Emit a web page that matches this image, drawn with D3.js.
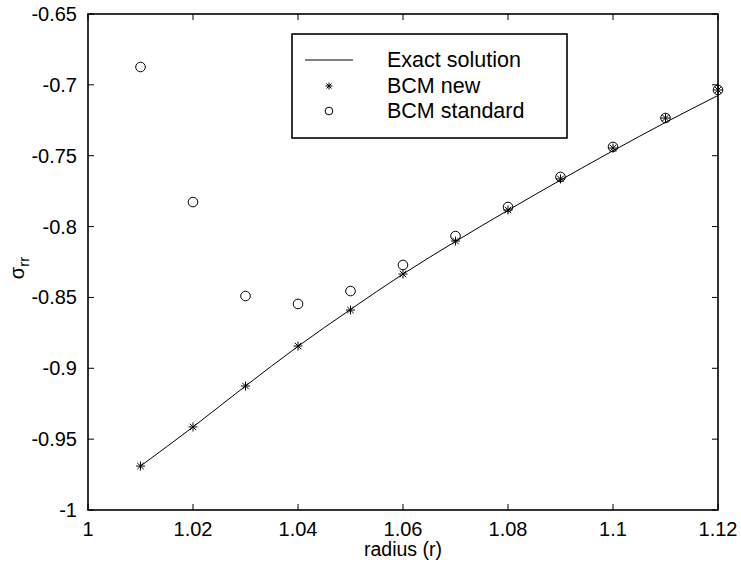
<!DOCTYPE html>
<html>
<head>
<meta charset="utf-8">
<script src="https://cdn.jsdelivr.net/npm/d3@7"></script>
<style>
body { margin: 0; background: #fff; }
text { font-family: "Liberation Sans", Arial, Helvetica, sans-serif; fill: #000; }
</style>
</head>
<body>
<div id="chart"></div>
<script>
// radius values shared by all series
var radius = [1.01, 1.02, 1.03, 1.04, 1.05, 1.06, 1.07, 1.08, 1.09, 1.10, 1.11, 1.12];

// exact solution (line)
var exact = [-0.969, -0.9414, -0.9125, -0.8845, -0.8585, -0.8335, -0.8105, -0.7885, -0.7672, -0.7465, -0.7265, -0.7075];
// BCM new (stars)
var bcmNew = [-0.969, -0.9414, -0.9125, -0.8843, -0.8589, -0.8335, -0.8102, -0.7883, -0.7664, -0.7446, -0.7234, -0.7036];
// BCM standard (circles)
var bcmStd = [-0.6874, -0.7827, -0.849, -0.8546, -0.8455, -0.8271, -0.8067, -0.7862, -0.765, -0.7438, -0.7234, -0.7036];

var xTicks = [1, 1.02, 1.04, 1.06, 1.08, 1.1, 1.12];
var yTicks = [-1, -0.95, -0.9, -0.85, -0.8, -0.75, -0.7, -0.65];
var legendItems = ["Exact solution", "BCM new", "BCM standard"];

var w = 741, h = 564;
var pLeft = 88, pRight = 718, pTop = 14, pBottom = 510;

var svg = d3.select("#chart").append("svg")
    .attr("width", w)
    .attr("height", h);

var x = d3.scaleLinear().domain([1, 1.12]).range([pLeft, pRight]);
var y = d3.scaleLinear().domain([-1, -0.65]).range([pBottom, pTop]);

//frame
svg.append("rect")
    .attr("x", pLeft).attr("y", pTop)
    .attr("width", pRight - pLeft).attr("height", pBottom - pTop)
    .attr("fill", "none").attr("stroke", "#000").attr("stroke-width", 1.6);

var tl = 6;
//x ticks, bottom and top, pointing in
xTicks.forEach(function(t){
    svg.append("line").attr("x1", x(t)).attr("x2", x(t)).attr("y1", pBottom).attr("y2", pBottom - tl)
        .attr("stroke", "#000");
    svg.append("line").attr("x1", x(t)).attr("x2", x(t)).attr("y1", pTop).attr("y2", pTop + tl)
        .attr("stroke", "#000");
    svg.append("text").text(String(t))
        .attr("x", x(t)).attr("y", 536)
        .attr("text-anchor", "middle").attr("font-size", 20);
});
//y ticks
yTicks.forEach(function(t){
    svg.append("line").attr("x1", pLeft).attr("x2", pLeft + tl).attr("y1", y(t)).attr("y2", y(t))
        .attr("stroke", "#000");
    svg.append("line").attr("x1", pRight).attr("x2", pRight - tl).attr("y1", y(t)).attr("y2", y(t))
        .attr("stroke", "#000");
    svg.append("text").text(String(t))
        .attr("x", pLeft - 11).attr("y", y(t) + 7)
        .attr("text-anchor", "end").attr("font-size", 20);
});

//axis labels
svg.append("text").text("radius (r)")
    .attr("x", 403).attr("y", 556)
    .attr("text-anchor", "middle").attr("font-size", 19.5);

var yl = svg.append("text")
    .attr("transform", "translate(24,268) rotate(-90)")
    .attr("text-anchor", "middle").attr("font-size", 20);
yl.append("tspan").text("\u03c3");
yl.append("tspan").text("rr").attr("font-size", 15).attr("dy", 5);

//exact line
var line = d3.line()
    .x(function(d, i){ return x(radius[i]); })
    .y(function(d){ return y(d); })
    .curve(d3.curveMonotoneX);
svg.append("path").datum(exact)
    .attr("d", line)
    .attr("fill", "none").attr("stroke", "#000").attr("stroke-width", 1);

function star(g, cx, cy, r){
    var a = r * 0.72;
    g.append("path")
        .attr("d", "M" + (cx - r) + "," + cy + "H" + (cx + r) +
            "M" + cx + "," + (cy - r) + "V" + (cy + r) +
            "M" + (cx - a) + "," + (cy - a) + "L" + (cx + a) + "," + (cy + a) +
            "M" + (cx - a) + "," + (cy + a) + "L" + (cx + a) + "," + (cy - a))
        .attr("stroke", "#000").attr("stroke-width", 1).attr("fill", "none");
}

var stars = svg.append("g");
bcmNew.forEach(function(v, i){ star(stars, x(radius[i]), y(v), 4.5); });

svg.append("g").selectAll("circle")
    .data(bcmStd)
    .enter().append("circle")
    .attr("cx", function(d, i){ return x(radius[i]); })
    .attr("cy", function(d){ return y(d); })
    .attr("r", 4.8)
    .attr("fill", "none").attr("stroke", "#000").attr("stroke-width", 1);

//legend
var lg = svg.append("g");
lg.append("rect").attr("x", 292).attr("y", 34).attr("width", 275).attr("height", 104)
    .attr("fill", "#fff").attr("stroke", "#000").attr("stroke-width", 1.6);
var ly = [60, 86, 111];
legendItems.forEach(function(name, i){
    lg.append("text").text(name).attr("x", 387).attr("y", ly[i] + 7).attr("font-size", 21.5);
});
lg.append("line").attr("x1", 305).attr("x2", 353).attr("y1", ly[0]).attr("y2", ly[0])
    .attr("stroke", "#000").attr("stroke-width", 1.2);
star(lg, 329, ly[1], 3.5);
lg.append("circle").attr("cx", 329).attr("cy", ly[2]).attr("r", 3.8)
    .attr("fill", "none").attr("stroke", "#000");
</script>
</body>
</html>
